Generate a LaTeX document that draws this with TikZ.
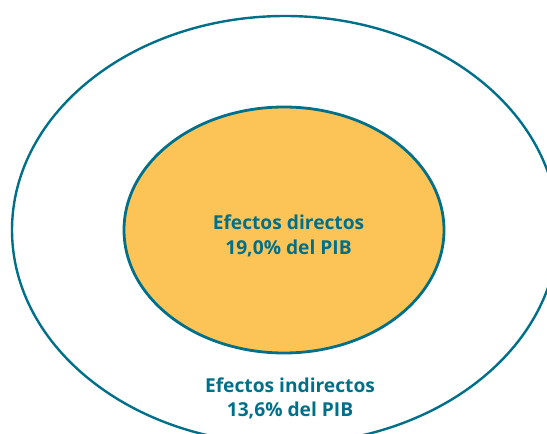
\documentclass[tikz,border=0pt]{standalone}
\usepackage{fontspec}
\setmainfont{Open Sans}
\usetikzlibrary{shapes.geometric}
\definecolor{teal}{HTML}{00708A}
\definecolor{gold}{HTML}{FCC457}
\begin{document}
\begin{tikzpicture}[x=1pt,y=-1pt,
  ring/.style={draw=teal, ellipse, inner sep=0pt},
  lbl/.style={text=teal, font=\bfseries\fontsize{19.2}{24}\selectfont, anchor=base, inner sep=0pt}]
\useasboundingbox (0,0) rectangle (547,434);
\clip (0,0) rectangle (547,434);
\node[ring, line width=2.4pt, minimum width=546pt, minimum height=428pt] (outer) at (285,230) {};
\node[ring, fill=gold, line width=2.8pt, minimum width=320pt, minimum height=246pt] (inner) at (284,230) {};
\node[lbl] (d1) at (288.5,229) {Efectos directos};
\node[lbl] (d2) at (288.5,254) {19,0\% del PIB};
\node[lbl] (i1) at (290,392) {Efectos indirectos};
\node[lbl] (i2) at (290,416) {13,6\% del PIB};
\end{tikzpicture}
\end{document}
